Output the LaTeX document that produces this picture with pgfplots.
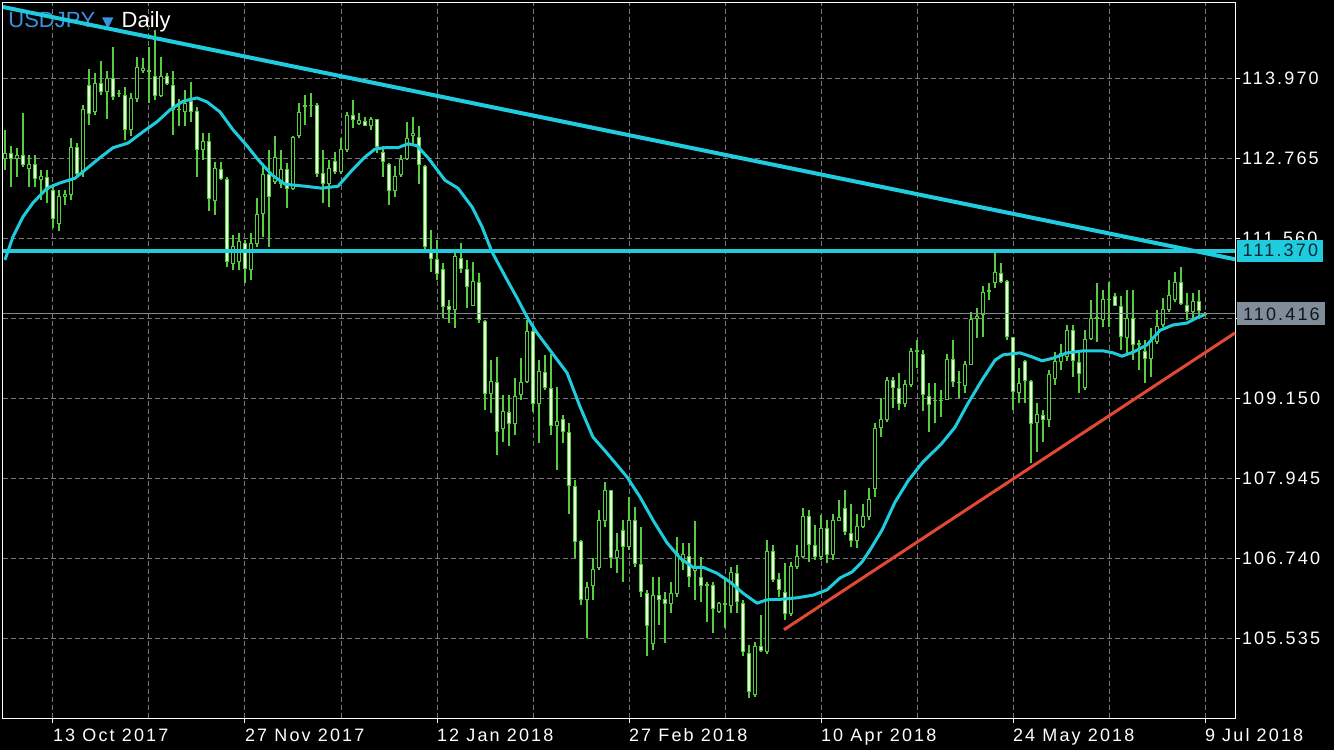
\documentclass[border=0pt]{standalone}
\usepackage{fontspec}
\setmainfont{Liberation Sans}
\newfontfamily\tickfont[LetterSpace=12]{Liberation Sans}
\newfontfamily\symfont{DejaVu Sans}
\usepackage{pgfplots}
\pgfplotsset{compat=1.18}
\usepackage{pgfplotstable}

\definecolor{cgreen}{RGB}{88,204,64}
\definecolor{cbear}{RGB}{226,255,212}
\definecolor{ccyan}{RGB}{30,204,222}
\definecolor{cred}{RGB}{226,72,52}
\definecolor{cgrid}{RGB}{120,120,120}
\definecolor{cblue}{RGB}{58,146,226}
\definecolor{cbid}{RGB}{128,140,152}

% USDJPY daily candles: bar index, open, high, low, close
\pgfplotstableread{
i O H L C
0 112.76 113.19 112.58 112.83
1 112.83 112.94 112.33 112.76
2 112.76 112.91 112.48 112.80
3 112.80 113.44 112.63 112.66
4 112.61 112.81 112.33 112.67
5 112.67 112.81 112.33 112.46
6 112.44 112.58 112.13 112.48
7 112.47 112.58 112.08 112.29
8 112.28 112.38 111.71 111.86
9 111.78 112.28 111.66 112.18
10 112.18 112.28 112.06 112.21
11 112.21 113.06 112.13 112.93
12 112.93 112.99 112.46 112.53
13 112.58 113.56 112.48 113.50
14 113.86 114.10 113.26 113.44
15 113.46 114.04 113.41 113.89
16 113.89 114.22 113.71 113.76
17 113.76 114.07 113.36 113.96
18 113.96 114.44 113.64 113.69
19 113.73 113.79 113.69 113.74
20 113.71 113.84 113.04 113.19
21 113.19 113.74 113.09 113.66
22 113.66 114.29 113.61 114.13
23 114.09 114.27 114.04 114.12
24 114.08 114.44 113.59 114.07
25 113.99 114.69 113.64 113.70
26 113.70 114.29 113.69 113.99
27 113.99 114.04 113.86 113.89
28 113.86 114.07 113.11 113.49
29 113.49 113.66 113.24 113.50
30 113.46 113.79 113.24 113.59
31 113.61 113.91 113.31 113.46
32 113.46 113.54 112.48 112.89
33 112.89 113.14 112.73 113.01
34 113.01 113.14 111.96 112.16
35 112.13 112.71 111.91 112.61
36 112.59 112.71 112.43 112.46
37 112.44 112.48 111.13 111.20
38 111.18 111.61 111.08 111.43
39 111.20 111.63 111.08 111.50
40 111.48 111.53 110.88 111.10
41 111.08 111.63 110.93 111.48
42 111.48 112.16 111.43 111.91
43 111.93 112.66 111.58 112.51
44 112.51 112.89 111.43 112.18
45 112.41 113.09 112.38 112.77
46 112.38 112.89 112.31 112.59
47 112.59 112.69 112.01 112.31
48 112.31 113.09 112.28 113.08
49 113.10 113.59 113.06 113.45
50 113.54 113.71 113.26 113.55
51 113.55 113.75 113.39 113.56
52 113.55 113.59 112.48 112.53
53 112.53 112.89 112.08 112.38
54 112.38 112.74 112.03 112.61
55 112.71 112.86 112.53 112.56
56 112.56 113.06 112.53 112.89
57 112.90 113.46 112.86 113.40
58 113.40 113.64 113.21 113.35
59 113.29 113.44 113.26 113.33
60 113.31 113.39 113.24 113.25
61 113.25 113.39 113.19 113.35
62 113.35 113.36 112.84 112.94
63 112.85 112.94 112.48 112.71
64 112.66 112.69 112.06 112.28
65 112.28 112.64 112.18 112.48
66 112.51 112.81 112.48 112.74
67 112.76 113.31 112.74 113.06
68 113.10 113.39 112.94 113.14
69 113.08 113.24 112.38 112.66
70 112.63 112.66 111.40 111.43
71 111.36 111.68 111.05 111.25
72 111.24 111.53 110.93 111.03
73 111.08 111.18 110.35 110.53
74 110.53 110.63 110.28 110.48
75 110.48 111.38 110.20 111.28
76 111.25 111.48 111.03 111.10
77 111.09 111.23 110.50 110.83
78 110.55 111.20 110.53 110.90
79 110.89 111.03 110.28 110.33
80 110.30 110.33 108.97 109.22
81 109.22 109.72 108.92 109.40
82 109.38 109.77 108.29 108.64
83 108.69 109.20 108.49 108.94
84 108.93 109.20 108.42 108.77
85 108.77 109.45 108.59 109.17
86 109.20 109.75 109.12 109.38
87 109.40 110.33 109.37 110.15
88 110.15 110.20 108.94 109.06
89 109.06 109.72 108.47 109.55
90 109.53 109.80 109.27 109.31
91 109.30 109.82 108.59 108.74
92 108.73 109.32 108.07 108.79
93 108.82 108.89 108.47 108.64
94 108.63 108.77 107.41 107.83
95 107.81 107.92 106.74 106.99
96 106.99 107.01 106.03 106.12
97 106.12 106.38 105.53 106.30
98 106.32 106.74 106.11 106.57
99 106.59 107.46 106.56 107.31
100 107.30 107.89 107.21 107.75
101 107.75 107.76 106.59 106.75
102 106.75 107.11 106.51 106.85
103 107.16 107.31 106.38 106.91
104 106.91 107.66 106.86 107.31
105 107.31 107.51 106.61 106.66
106 106.64 107.21 106.16 106.23
107 106.21 106.26 105.26 105.73
108 105.45 106.46 105.36 106.18
109 106.17 106.46 105.73 106.12
110 106.11 106.23 105.46 106.06
111 106.06 106.38 105.91 106.20
112 106.21 107.06 106.16 106.81
113 106.69 106.96 106.56 106.79
114 106.77 106.96 106.31 106.46
115 106.55 107.29 106.11 106.58
116 106.44 106.76 106.08 106.32
117 106.33 106.38 105.78 106.34
118 106.33 106.38 105.61 105.98
119 105.93 106.08 105.91 106.05
120 106.04 106.46 105.68 106.05
121 106.03 106.61 105.91 106.52
122 106.51 106.64 105.91 106.08
123 106.06 106.11 105.26 105.33
124 105.30 105.43 104.63 104.73
125 104.68 105.48 104.65 105.41
126 105.40 105.88 105.33 105.35
127 105.33 107.01 105.30 106.84
128 106.84 106.94 106.38 106.41
129 106.42 106.51 106.16 106.27
130 106.22 106.66 105.81 105.90
131 105.91 106.68 105.86 106.61
132 106.61 106.94 106.58 106.76
133 106.77 107.49 106.74 107.37
134 107.37 107.46 106.68 106.95
135 106.93 107.24 106.71 106.76
136 106.77 107.39 106.71 107.19
137 107.19 107.31 106.66 106.80
138 106.80 107.41 106.71 107.30
139 107.30 107.61 107.29 107.35
140 107.49 107.76 107.09 107.14
141 107.11 107.56 106.91 107.01
142 107.01 107.41 106.89 107.22
143 107.22 107.56 107.19 107.36
144 107.36 107.79 107.31 107.62
145 107.79 108.78 107.66 108.69
146 108.70 109.15 108.57 108.82
147 108.82 109.47 108.79 109.42
148 109.41 109.47 109.00 109.31
149 109.30 109.52 108.97 109.06
150 109.07 109.42 109.02 109.35
151 109.35 109.90 109.32 109.85
152 109.85 110.02 109.60 109.86
153 109.81 109.87 108.95 109.20
154 109.17 109.37 108.64 109.05
155 109.11 109.37 108.77 109.12
156 109.11 109.27 108.87 109.12
157 109.13 109.82 109.12 109.73
158 109.73 110.02 109.32 109.40
159 109.38 109.55 109.15 109.39
160 109.34 109.70 109.22 109.65
161 109.66 110.45 109.65 110.33
162 110.35 110.50 110.05 110.38
163 110.41 110.83 110.07 110.74
164 110.76 110.88 110.63 110.77
165 110.89 111.38 110.80 111.04
166 111.03 111.18 110.88 110.90
167 110.90 110.93 110.02 110.07
168 110.06 110.07 108.97 109.25
169 109.23 109.60 109.07 109.37
170 109.70 109.72 109.07 109.42
171 109.40 109.42 108.17 108.77
172 108.78 109.07 108.34 108.90
173 108.89 108.97 108.49 108.82
174 108.82 109.57 108.72 109.51
175 109.45 109.85 109.35 109.70
176 109.70 109.97 109.57 109.82
177 109.78 110.25 109.70 110.17
178 110.17 110.25 109.47 109.71
179 109.68 109.87 109.22 109.52
180 109.31 110.17 109.27 110.03
181 110.05 110.63 110.02 110.35
182 110.35 110.88 110.00 110.36
183 110.34 110.78 110.22 110.63
184 110.63 110.90 110.22 110.64
185 110.68 110.73 110.53 110.55
186 110.53 110.68 109.87 110.07
187 110.06 110.78 109.82 110.35
188 110.35 110.78 109.72 109.96
189 109.96 110.02 109.57 109.97
190 109.85 110.02 109.37 109.75
191 109.75 110.20 109.47 110.00
192 110.00 110.48 109.97 110.23
193 110.25 110.65 110.22 110.49
194 110.49 110.93 110.45 110.69
195 110.64 111.05 110.60 110.89
196 110.89 111.13 110.55 110.58
197 110.55 110.73 110.33 110.45
198 110.46 110.73 110.33 110.60
199 110.60 110.78 110.35 110.47
200 110.41 110.45 110.39 110.42
}\candles

% moving average as drawn on the chart
\pgfplotstableread{
i ma
0 111.23
1.33 111.58
3 111.88
4.67 112.09
7 112.31
9.17 112.39
11.67 112.46
13.67 112.61
15.83 112.77
18 112.92
20.5 112.99
23 113.16
25.33 113.31
27.5 113.49
29.67 113.62
32 113.67
33.67 113.61
35.83 113.46
38 113.19
40.33 112.95
42.17 112.74
44.5 112.51
46.67 112.37
50 112.34
52.83 112.31
55.5 112.34
57.83 112.58
60 112.78
61.67 112.90
63.33 112.92
65.5 112.92
67.17 112.98
68.67 112.95
70.5 112.77
73.33 112.43
75.5 112.31
77.83 112.03
79.5 111.73
81.17 111.35
83.67 110.93
85.33 110.66
87 110.37
88.67 110.13
90.83 109.87
93.67 109.53
95.83 109.02
98 108.56
100.33 108.32
103.67 107.96
105.83 107.66
108 107.31
110.33 106.97
112.5 106.74
114.67 106.60
116.33 106.60
118.67 106.51
120.83 106.38
123 106.21
125.33 106.06
127 106.11
129.67 106.12
132 106.14
134.67 106.18
137 106.26
139.17 106.44
141.17 106.53
142.83 106.68
144.17 106.86
146.17 107.16
148.33 107.58
150.5 107.90
152.83 108.17
156.17 108.47
158.33 108.71
160.5 109.07
162.83 109.42
165 109.72
166.33 109.80
169.17 109.83
171.17 109.77
172.83 109.71
174.67 109.75
177 109.83
179.67 109.86
183 109.86
184.67 109.83
186.17 109.78
188 109.84
190.33 109.95
192.5 110.17
194.67 110.25
197 110.28
198.67 110.36
199.83 110.40
}\maline

\pgfplotsset{
  candle/.style={draw=none, forget plot,
    error bars/.cd, y dir=plus, y explicit, error mark=none,
    error bar style={solid, #1}},
}

\begin{document}
\begin{tikzpicture}
\useasboundingbox (0,0) rectangle (667pt,375pt);
\fill[black] (0,0) rectangle (667pt,375pt);
\node[anchor=base west, inner sep=0pt, font=\fontsize{11}{13}\selectfont] at (4pt,361pt)
  {\textcolor{cblue}{USDJPY}\hspace{3.5pt}{\symfont\fontsize{7.5}{8}\selectfont\textcolor{cblue}{▼}}\hspace{4pt}\textcolor{white}{Daily}};
\begin{axis}[
  at={(1.5pt,16pt)}, anchor=south west,
  scale only axis, width=616pt, height=357.5pt,
  xmin=-0.333, xmax=205, ymin=104.33, ymax=115.10,
  axis line style={white, line width=0.5pt},
  xtick={8,40,72,104,136,168,200},
  xticklabels={13 Oct 2017, 27 Nov 2017, 12 Jan 2018, 27 Feb 2018, 10 Apr 2018, 24 May 2018, 9 Jul 2018},
  minor xtick={24,56,88,120,152,184},
  ytick={105.535,106.740,107.945,109.150,110.355,111.560,112.765,113.970},
  yticklabels={105.535,106.740,107.945,109.150,,111.560,112.765,113.970},
  xtick pos=bottom, ytick pos=right, yticklabel pos=right,
  tick align=outside, major tick length=2.5pt, minor tick length=0pt,
  tick style={white, line width=0.5pt},
  xmajorgrids, xminorgrids, ymajorgrids,
  major grid style={cgrid, line width=0.5pt, dash pattern=on 2.4pt off 1.6pt},
  minor grid style={cgrid, line width=0.5pt, dash pattern=on 2.4pt off 1.6pt},
  tick label style={font=\tickfont\fontsize{9}{10}\selectfont, text=white},
  yticklabel style={xshift=-2.5pt},
  xticklabel style={anchor=north west, xshift=-3.5pt, yshift=0.8pt},
  clip=false,
]
% wicks
\addplot[candle={draw=cgreen, line width=0.6pt}] table[x=i, y=L, y error plus expr={\thisrow{H}-\thisrow{L}}] {\candles};
% body outline
\addplot[candle={draw=cgreen, line width=2.4pt}] table[x=i, y expr={min(\thisrow{O},\thisrow{C})-0.0075}, y error plus expr={abs(\thisrow{C}-\thisrow{O})+0.015}] {\candles};
% bear bodies, pale fill
\addplot[candle={draw=cbear, line width=1.4pt}] table[x=i, y expr={min(\thisrow{O},\thisrow{C})+0.0075}, y error plus expr={(\thisrow{O}>\thisrow{C})*max(0,abs(\thisrow{C}-\thisrow{O})-0.015)}] {\candles};
% bull bodies, hollow
\addplot[candle={draw=black, line width=1.4pt}] table[x=i, y expr={min(\thisrow{O},\thisrow{C})+0.0075}, y error plus expr={(\thisrow{O}<\thisrow{C})*max(0,abs(\thisrow{C}-\thisrow{O})-0.015)}] {\candles};

% bid line
\addplot[cbid, line width=0.5pt] coordinates {(-0.333,110.416) (205,110.416)};
% moving average
\addplot[ccyan, line width=1.5pt, line join=round] table[x=i, y=ma] {\maline};
% trend lines
\addplot[ccyan, line width=2pt] coordinates {(-0.333,115.04) (205,111.24)};
\addplot[ccyan, line width=2pt] coordinates {(-0.333,111.37) (205,111.37)};
\addplot[cred, line width=1.5pt] coordinates {(129.83,105.66) (205,110.13)};

\coordinate (b1) at (axis cs:205,111.37);
\coordinate (b2) at (axis cs:205,110.416);
\end{axis}
\node[anchor=west, xshift=1pt, fill=ccyan, text={rgb,255:red,10;green,40;blue,56}, minimum width=43pt, minimum height=11pt, inner sep=0pt, font=\tickfont\fontsize{9}{10}\selectfont] at (b1) {111.370};
\node[anchor=west, xshift=1pt, fill=cbid, text={rgb,255:red,16;green,22;blue,30}, minimum width=44pt, minimum height=11.5pt, inner sep=0pt, font=\tickfont\fontsize{9}{10}\selectfont] at (b2) {110.416};
\end{tikzpicture}
\end{document}
